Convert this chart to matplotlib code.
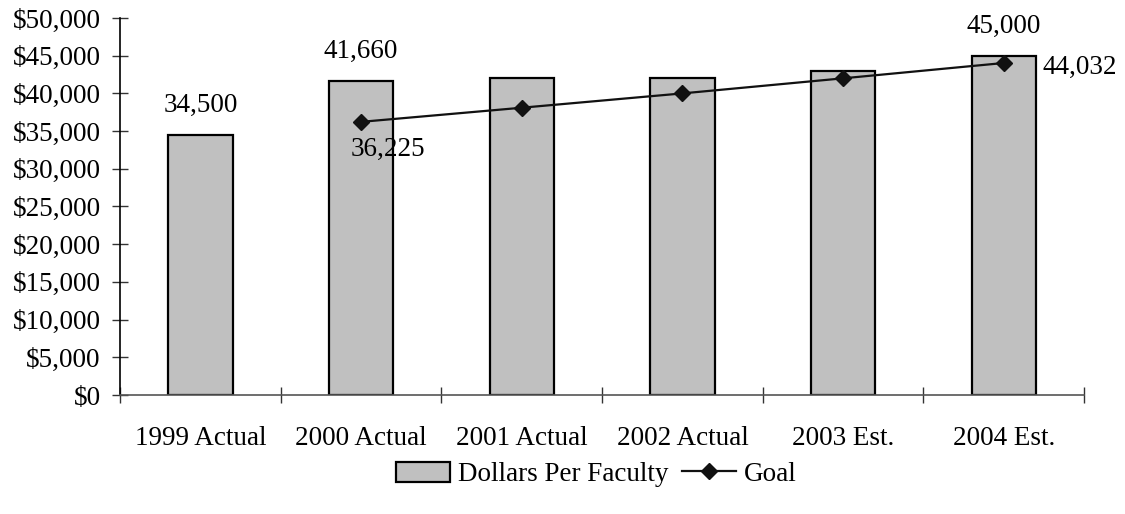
import matplotlib
matplotlib.use("Agg")
import matplotlib.pyplot as plt
from matplotlib.ticker import FuncFormatter, FixedLocator

plt.rcParams['font.family'] = ['Liberation Serif', 'DejaVu Serif']

categories = ['1999 Actual', '2000 Actual', '2001 Actual', '2002 Actual', '2003 Est.', '2004 Est.']
dollars = [34500, 41660, 42000, 42000, 43000, 45000]
goal = [None, 36225, 38100, 40000, 42000, 44032]
bar_labels = {0: '34,500', 1: '41,660', 5: '45,000'}

FS = 19.5


def main():
    fig = plt.figure(figsize=(11.25, 5.14), dpi=100)
    ax = fig.add_axes([0.1067, 0.2315, 0.857, 0.7335])

    x = list(range(len(categories)))
    bars = ax.bar(x, dollars, width=0.4, color='#C0C0C0', edgecolor='black',
                  linewidth=1.6, label='Dollars Per Faculty', zorder=2)

    gx = [i for i, g in zip(x, goal) if g is not None]
    gy = [g for g in goal if g is not None]
    line, = ax.plot(gx, gy, color='#111111', linewidth=1.6, marker='D', markersize=8,
                    label='Goal', zorder=3)

    # value labels above selected bars
    for i, txt in bar_labels.items():
        ax.annotate(txt, (x[i], dollars[i]), xytext=(0, 21), textcoords='offset points',
                    ha='center', va='center', fontsize=FS)

    # goal labels for first and last points
    ax.annotate(f'{gy[0]:,}', (gx[0], gy[0]), xytext=(19.5, -20), textcoords='offset points',
                ha='center', va='center', fontsize=FS)
    ax.annotate(f'{gy[-1]:,}', (gx[-1], gy[-1]), xytext=(28, -3), textcoords='offset points',
                ha='left', va='center', fontsize=FS)

    ax.set_xlim(-0.5, len(categories) - 0.5)
    ax.set_ylim(0, 50000)
    ax.set_yticks(range(0, 50001, 5000))
    ax.yaxis.set_major_formatter(FuncFormatter(lambda v, p: f'${int(v):,}'))

    ax.set_xticks(x)
    ax.set_xticklabels(categories)
    ax.xaxis.set_minor_locator(FixedLocator([i - 0.5 for i in range(len(categories) + 1)]))
    ax.tick_params(axis='x', which='major', length=0, pad=22, labelsize=FS)
    ax.tick_params(axis='x', which='minor', direction='inout', length=12, width=1, color='#333333')
    ax.tick_params(axis='y', direction='inout', length=12, width=1, pad=8, labelsize=FS,
                   color='#333333')

    for s in ['top', 'right']:
        ax.spines[s].set_visible(False)
    ax.spines['left'].set_color('black')
    ax.spines['left'].set_linewidth(1.2)
    ax.spines['bottom'].set_color('#555555')
    ax.spines['bottom'].set_linewidth(1.2)

    fig.legend(handles=[bars, line], loc='center', bbox_to_anchor=(0.53, 0.077), ncol=2,
               frameon=False, fontsize=FS, handlelength=2.0, handleheight=0.8,
               columnspacing=0.5, handletextpad=0.3)

    fig.savefig('out.png', dpi=100)


if __name__ == '__main__':
    main()
